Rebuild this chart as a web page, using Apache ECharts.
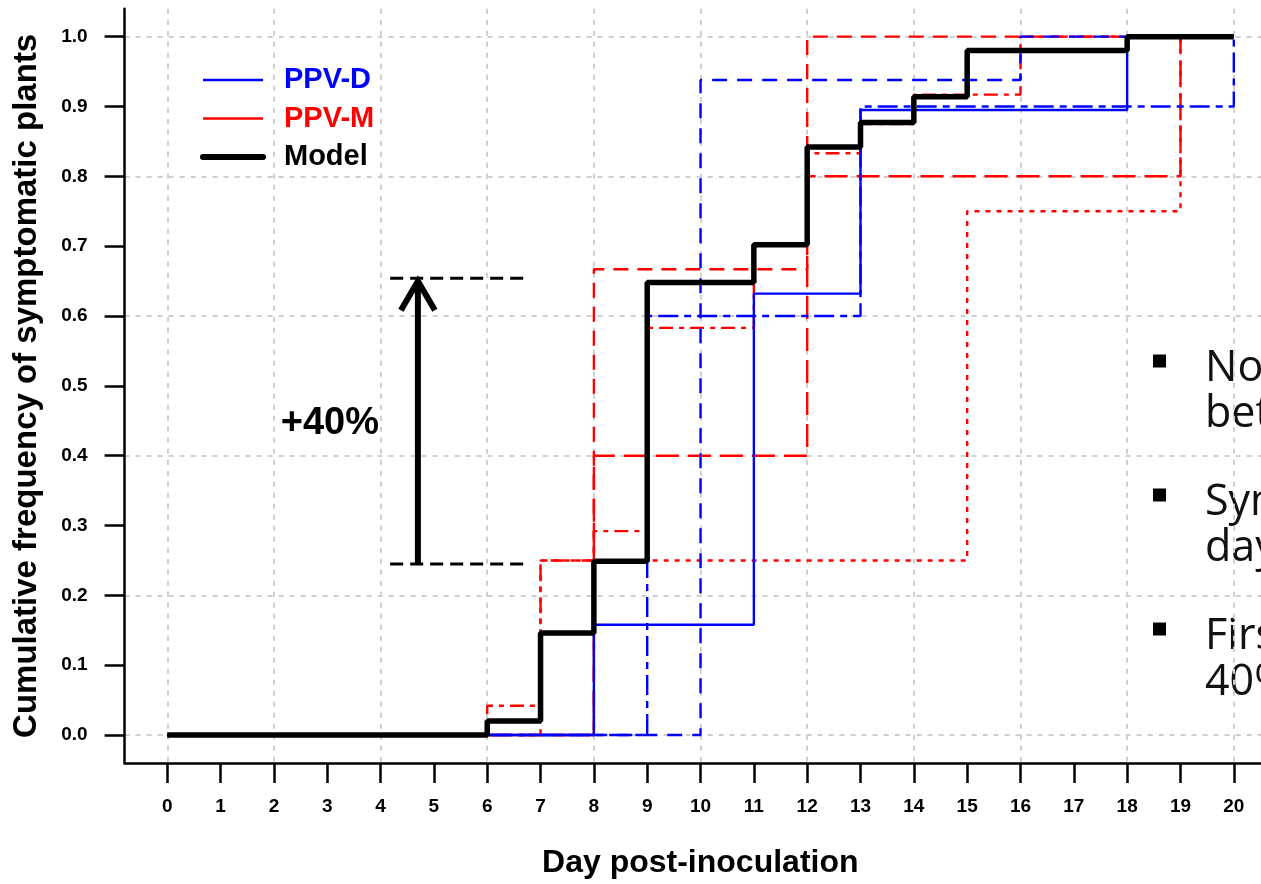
<!DOCTYPE html>
<html>
<head>
<meta charset="utf-8">
<title>Cumulative frequency of symptomatic plants</title>
<script src="https://cdn.jsdelivr.net/npm/echarts@6/dist/echarts.min.js"></script>
<style>
  html, body { margin: 0; padding: 0; background: #fff; }
  #chart { width: 1261px; height: 884px; }
</style>
</head>
<body>
<div id="chart"></div>
<script>
// axis ticks
var dayTicks = [0, 1, 2, 3, 4, 5, 6, 7, 8, 9, 10, 11, 12, 13, 14, 15, 16, 17, 18, 19, 20];
var dayGrid = [0, 2, 4, 6, 8, 10, 12, 14, 16, 18, 20];
var freqTicks = [0, 0.1, 0.2, 0.3, 0.4, 0.5, 0.6, 0.7, 0.8, 0.9, 1.0];
var freqGrid = [0, 0.2, 0.4, 0.6, 0.8, 1.0];

// PPV-D experiments (value holds from that day on)
var ppvDSolidDays = [0, 8, 11, 13, 18, 20];
var ppvDSolidVals = [0, 0.158, 0.632, 0.895, 1, 1];
var ppvDDashDays = [0, 10, 16, 20];
var ppvDDashVals = [0, 0.938, 1, 1];
var ppvDTwoDashDays = [0, 9, 13, 20];
var ppvDTwoDashVals = [0, 0.6, 0.9, 1];

// PPV-M experiments
var ppvMDashDays = [0, 8, 12, 20];
var ppvMDashVals = [0, 0.667, 1, 1];
var ppvMLongDays = [0, 8, 12, 19, 20];
var ppvMLongVals = [0, 0.4, 0.8, 1, 1];
var ppvMDotDays = [0, 7, 15, 19, 20];
var ppvMDotVals = [0, 0.25, 0.75, 1, 1];
var ppvMDotDashDays = [0, 6, 7, 8, 9, 11, 12, 13, 14, 16, 20];
var ppvMDotDashVals = [0, 0.042, 0.25, 0.292, 0.583, 0.704, 0.833, 0.875, 0.917, 1, 1];

// model
var modelDays = [0, 6, 7, 8, 9, 11, 12, 13, 14, 15, 18, 20];
var modelVals = [0, 0.02, 0.146, 0.249, 0.648, 0.702, 0.842, 0.877, 0.914, 0.98, 1, 1];

// +40% annotation
var bracketDays = [4.18, 6.71];
var bracketVals = [0.245, 0.654];
var arrowDay = 4.7;
var gainLabel = '+40%';
var gainLabelPos = [3.05, 0.446];

// side notes (cut off in the original slide)
var noteLines = [['No', 'bet'], ['Sym', 'day'], ['Firs', '40%']];

var FONT = '"Liberation Sans", Arial, Helvetica, sans-serif';
var BLUE = '#0000ff';
var RED = '#ff0000';

function pairs(days, vals) {
  return days.map(function (d, i) { return [d, vals[i]]; });
}

function stepLine(name, days, vals, color, width, dash) {
  return {
    name: name,
    type: 'line',
    step: 'end',
    symbol: 'none',
    silent: true,
    data: pairs(days, vals),
    itemStyle: { color: color },
    lineStyle: { color: color, width: width, type: dash }
  };
}

var chart = echarts.init(document.getElementById('chart'));

var graphics = [];
noteLines.forEach(function (lines, k) {
  var top = 369 + k * 134;
  graphics.push({
    type: 'rect', left: 1153, top: top - 14.5,
    shape: { width: 13, height: 13 }, style: { fill: '#000' }
  });
  lines.forEach(function (txt, j) {
    graphics.push({
      type: 'text', x: 1205, y: top + j * 46,
      style: { text: txt, fill: '#111', font: '43px "Open Sans", sans-serif', verticalAlign: 'middle' }
    });
  });
});

var option = {
  animation: false,
  backgroundColor: '#fff',
  grid: { left: 124.6, right: 0, top: 8.7, bottom: 118.3 },
  legend: {
    orient: 'vertical',
    left: 195,
    top: 60,
    itemWidth: 60,
    itemHeight: 14,
    itemGap: 8.5,
    selectedMode: false,
    textStyle: { fontFamily: FONT, fontWeight: 'bold', fontSize: 29, lineHeight: 30, padding: [0, 0, 0, 16] },
    data: [
      { name: 'PPV-D', textStyle: { color: BLUE }, lineStyle: { type: 'solid', width: 2.6, color: BLUE }, itemStyle: { opacity: 0 } },
      { name: 'PPV-M', textStyle: { color: RED }, lineStyle: { type: 'solid', width: 2.6, color: RED }, itemStyle: { opacity: 0 } },
      { name: 'Model', textStyle: { color: '#000' }, lineStyle: { type: 'solid', width: 6, color: '#000', cap: 'round' }, itemStyle: { opacity: 0 } }
    ]
  },
  xAxis: [{
    type: 'value', min: -0.8, max: 20.51,
    name: 'Day post-inoculation', nameLocation: 'middle', nameGap: 84,
    nameTextStyle: { fontFamily: FONT, fontWeight: 'bold', fontSize: 32, color: '#000', padding: [0, 0, 0, 15] },
    axisLine: { show: true, onZero: false, lineStyle: { color: '#000', width: 2.5 } },
    axisTick: { show: true, customValues: dayTicks, length: 20, lineStyle: { color: '#000', width: 2.5 } },
    axisLabel: { customValues: dayTicks, margin: 34, fontFamily: FONT, fontWeight: 'bold', fontSize: 19, color: '#000' },
    splitLine: { show: false }
  }, {
    type: 'value', min: -0.8, max: 20.51, position: 'bottom',
    axisLine: { show: false },
    axisTick: { show: false, customValues: dayGrid },
    axisLabel: { show: false },
    splitLine: { show: true, lineStyle: { color: '#cfcfcf', width: 2, type: [5, 6] } }
  }],
  yAxis: [{
    type: 'value', min: -0.04, max: 1.04,
    name: 'Cumulative frequency of symptomatic plants', nameLocation: 'middle', nameGap: 81,
    nameTextStyle: { fontFamily: FONT, fontWeight: 'bold', fontSize: 33, color: '#000' },
    axisLine: { show: true, onZero: false, lineStyle: { color: '#000', width: 2.5 } },
    axisTick: { show: true, customValues: freqTicks, length: 20, lineStyle: { color: '#000', width: 2.5 } },
    axisLabel: {
      customValues: freqTicks, margin: 37, fontFamily: FONT, fontWeight: 'bold', fontSize: 19, color: '#000',
      formatter: function (v) { return v.toFixed(1); }
    },
    splitLine: { show: false }
  }, {
    type: 'value', min: -0.04, max: 1.04, position: 'left',
    axisLine: { show: false },
    axisTick: { show: false, customValues: freqGrid },
    axisLabel: { show: false },
    splitLine: { show: true, lineStyle: { color: '#cfcfcf', width: 2, type: [5, 6] } }
  }],
  graphic: graphics,
  series: [
    stepLine('PPV-M', ppvMDashDays, ppvMDashVals, RED, 2.4, [15, 9]),
    stepLine('PPV-M', ppvMLongDays, ppvMLongVals, RED, 2.4, [23, 9]),
    stepLine('PPV-M', ppvMDotDays, ppvMDotVals, RED, 2.4, [5, 6]),
    stepLine('PPV-M', ppvMDotDashDays, ppvMDotDashVals, RED, 2.4, [14, 6, 5, 6]),
    stepLine('PPV-D', ppvDSolidDays, ppvDSolidVals, BLUE, 2.4, 'solid'),
    stepLine('PPV-D', ppvDDashDays, ppvDDashVals, BLUE, 2.4, [15, 10]),
    stepLine('PPV-D', ppvDTwoDashDays, ppvDTwoDashVals, BLUE, 2.4, [7, 6, 20, 6]),
    stepLine('Model', modelDays, modelVals, '#000', 5.5, 'solid'),
    {
      type: 'custom',
      silent: true,
      data: [[bracketDays[0], bracketDays[1], arrowDay, bracketVals[0], bracketVals[1]]],
      renderItem: function (params, api) {
        var l0 = api.coord([api.value(0), api.value(3)]);
        var r0 = api.coord([api.value(1), api.value(3)]);
        var l1 = api.coord([api.value(0), api.value(4)]);
        var r1 = api.coord([api.value(1), api.value(4)]);
        var a0 = api.coord([api.value(2), api.value(3)]);
        var a1 = api.coord([api.value(2), api.value(4)]);
        var t = api.coord(gainLabelPos);
        var dash = { stroke: '#000', lineWidth: 3, lineDash: [13, 7], fill: null };
        return {
          type: 'group',
          children: [
            { type: 'line', shape: { x1: l0[0], y1: l0[1], x2: r0[0], y2: r0[1] }, style: dash },
            { type: 'line', shape: { x1: l1[0], y1: l1[1], x2: r1[0], y2: r1[1] }, style: dash },
            { type: 'line', shape: { x1: a0[0], y1: a0[1], x2: a1[0], y2: a1[1] + 4 }, style: { stroke: '#000', lineWidth: 6 } },
            {
              type: 'polyline',
              shape: { points: [[a1[0] - 17, a1[1] + 32], [a1[0], a1[1] + 3], [a1[0] + 17, a1[1] + 32]] },
              style: { stroke: '#000', lineWidth: 6, fill: null }
            },
            {
              type: 'text', x: t[0], y: t[1],
              style: { text: gainLabel, font: 'bold 38px ' + FONT, fill: '#000', align: 'center', verticalAlign: 'middle' }
            }
          ]
        };
      }
    }
  ]
};

chart.setOption(option);
</script>
</body>
</html>
